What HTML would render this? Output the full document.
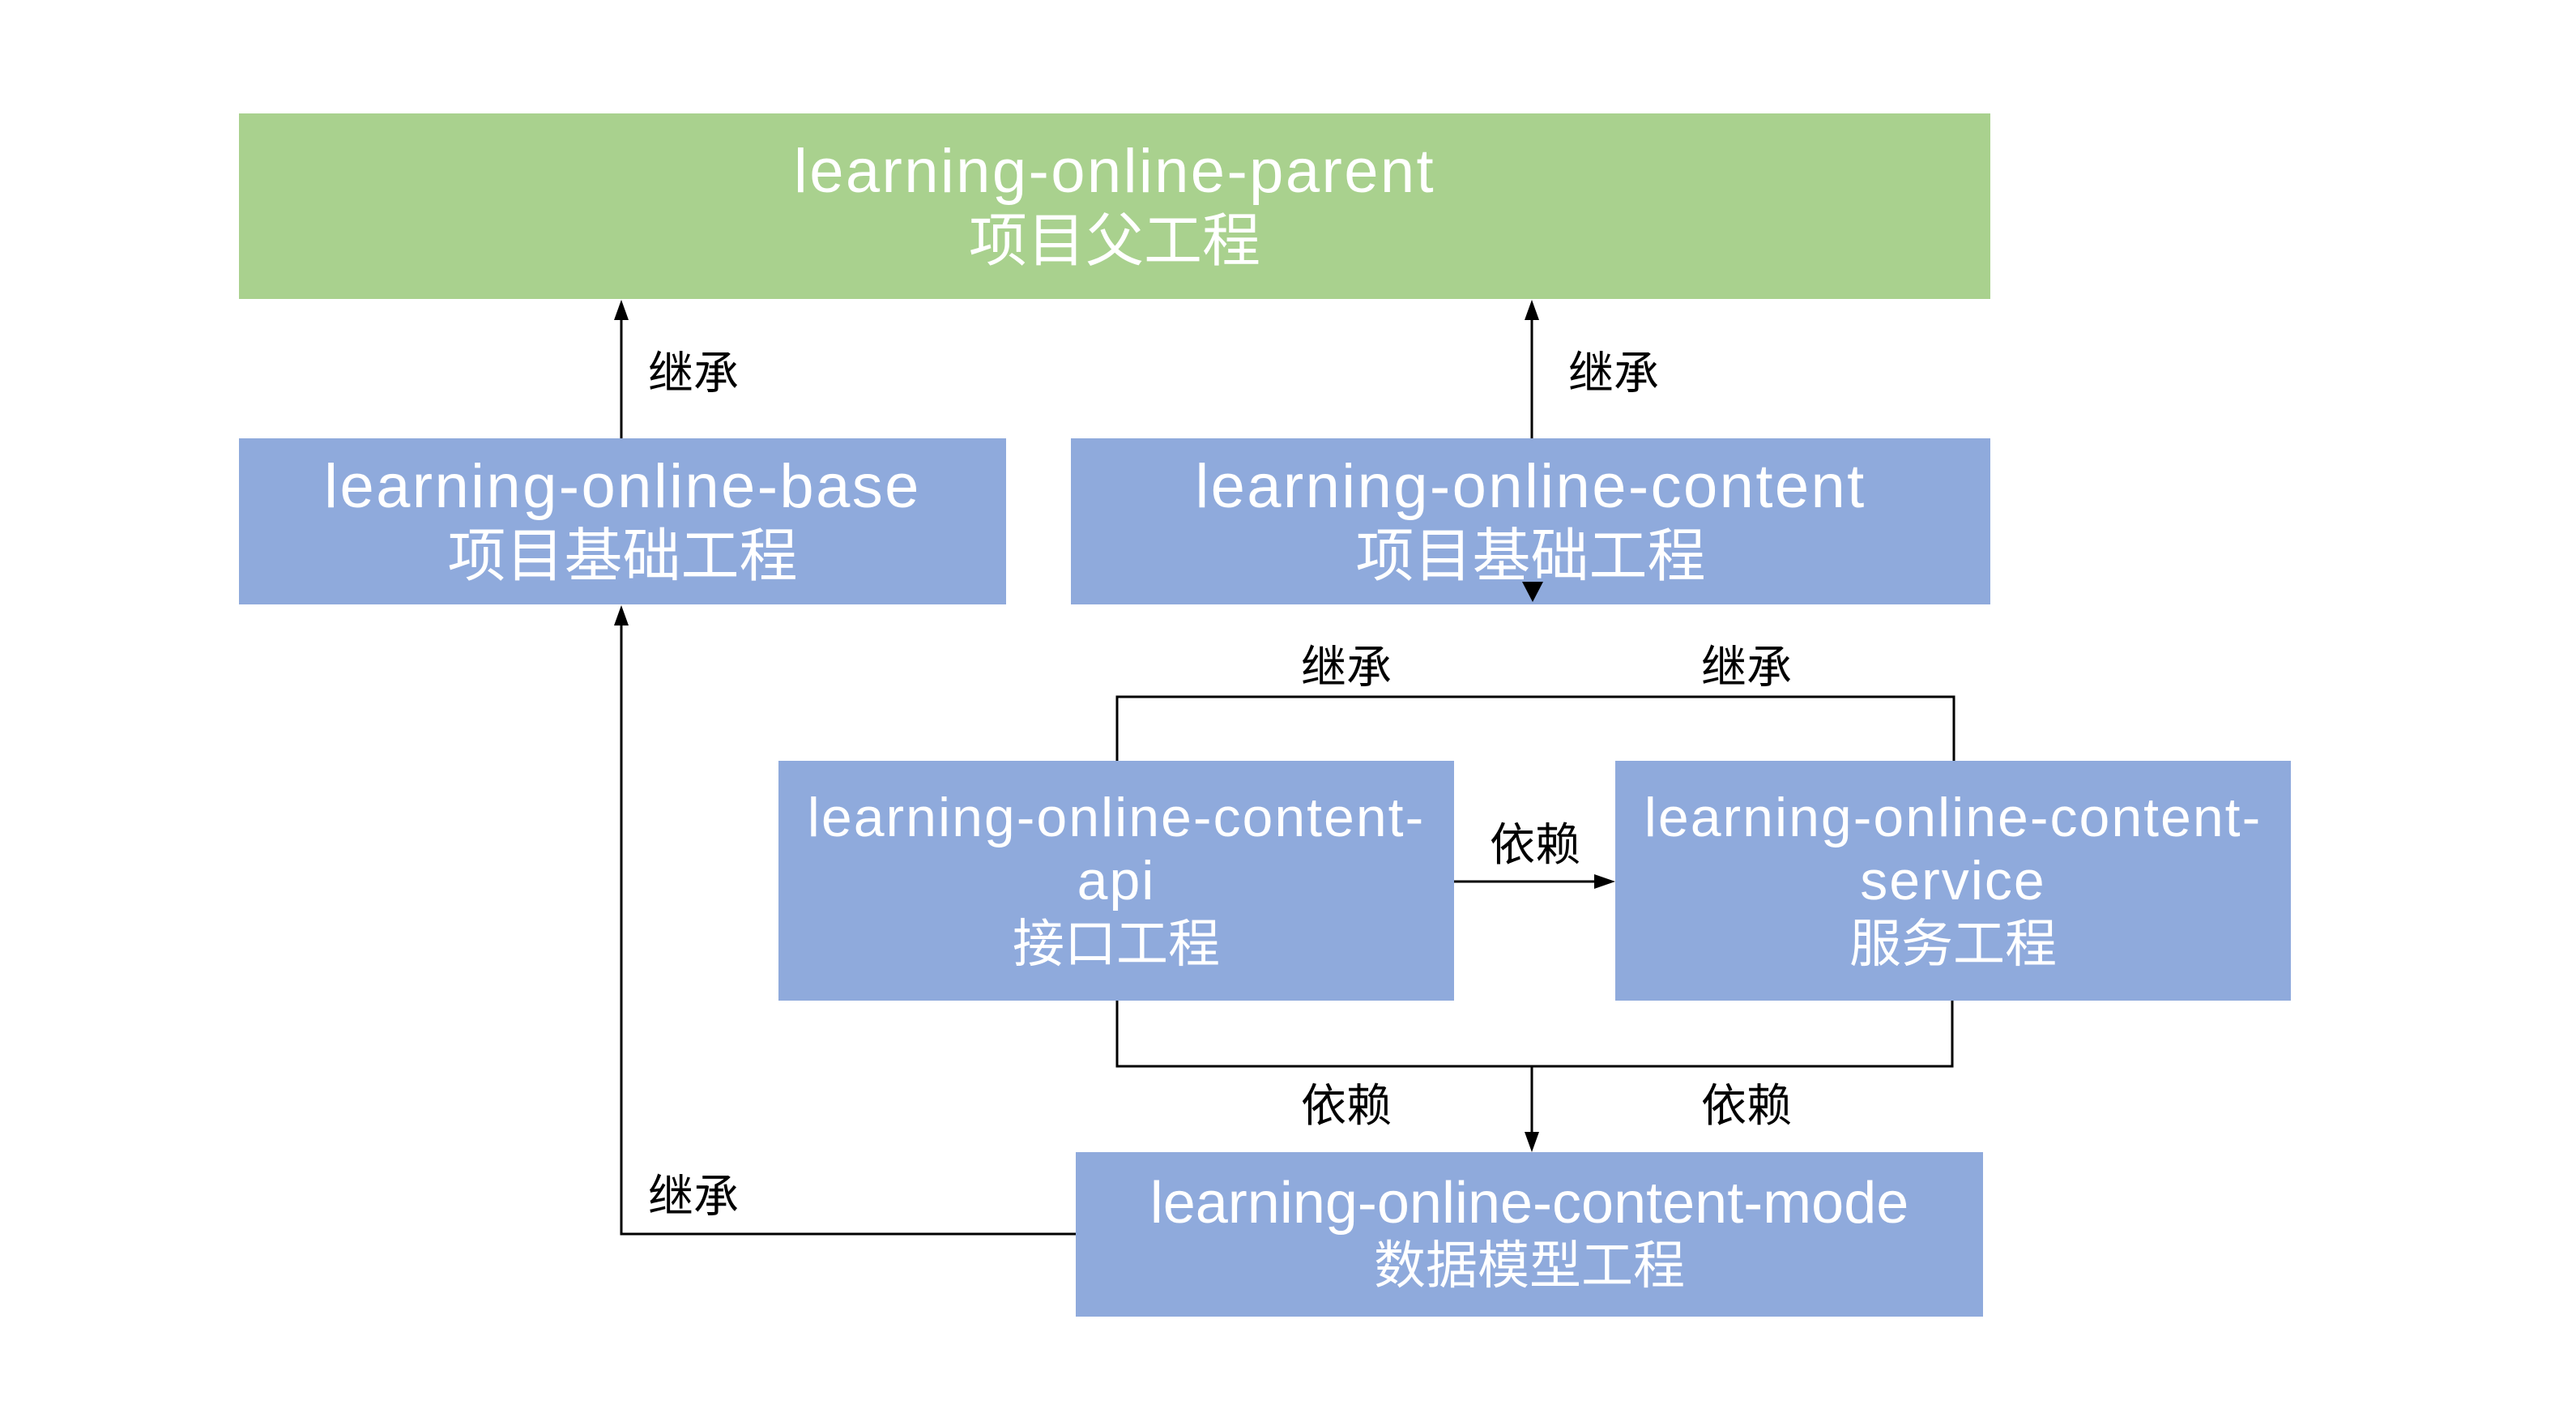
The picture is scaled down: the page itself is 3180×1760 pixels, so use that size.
<!DOCTYPE html>
<html><head><meta charset="utf-8"><style>
html,body{margin:0;padding:0;background:#fff;}
body{width:3180px;height:1760px;position:relative;overflow:hidden;font-family:"Liberation Sans","Noto Sans CJK SC",sans-serif;}
.b{position:absolute;background:#8faadc;color:#fff;display:flex;flex-direction:column;align-items:center;justify-content:center;text-align:center;font-size:72px;line-height:86px;font-family:"Liberation Sans","Noto Sans CJK SC",sans-serif;white-space:nowrap;}
.b .e{font-size:76px;letter-spacing:2.4px;white-space:nowrap;}
.s{font-size:64px;line-height:78px;}
.s .e{font-size:68px;letter-spacing:2px;}
.m{font-size:64px;line-height:77px;}
.m .e{font-size:72px;letter-spacing:0;}
.g{background:#a9d18e;}
.l{position:absolute;font-size:56px;line-height:60px;color:#000;transform:translate(-50%,-50%);white-space:nowrap;font-family:"Noto Sans CJK SC",sans-serif;}
svg{position:absolute;left:0;top:0;}
</style></head><body>
<div class="b g" style="left:295px;top:140px;width:2162px;height:229px;"><div class="e">learning-online-parent</div><div>项目父工程</div></div>
<div class="b" style="left:295px;top:541px;width:947px;height:205px;"><div class="e">learning-online-base</div><div>项目基础工程</div></div>
<div class="b" style="left:1322px;top:541px;width:1135px;height:205px;"><div class="e">learning-online-content</div><div>项目基础工程</div></div>
<div class="b s" style="left:961px;top:939px;width:834px;height:296px;"><div class="e">learning-online-content-</div><div class="e">api</div><div>接口工程</div></div>
<div class="b s" style="left:1994px;top:939px;width:834px;height:296px;"><div class="e">learning-online-content-</div><div class="e">service</div><div>服务工程</div></div>
<div class="b m" style="left:1328px;top:1422px;width:1120px;height:203px;"><div class="e">learning-online-content-mode</div><div>数据模型工程</div></div>
<svg width="3180" height="1760" viewBox="0 0 3180 1760">
<g stroke="#000" stroke-width="3" fill="none">
<line x1="767" y1="541" x2="767" y2="393"/>
<line x1="1891" y1="541" x2="1891" y2="393"/>
<polyline points="1379,939 1379,860 2412,860 2412,939"/>
<line x1="1795" y1="1088" x2="1968" y2="1088"/>
<polyline points="1379,1235 1379,1316 2410,1316 2410,1235"/>
<line x1="1891" y1="1316" x2="1891" y2="1398"/>
<polyline points="1328,1523 767,1523 767,772"/>
</g>
<g fill="#000">
<polygon points="767,370 758,395 776,395"/>
<polygon points="1891,370 1882,395 1900,395"/>
<polygon points="1892,743 1879,718 1905,718"/>
<polygon points="1994,1088 1968,1079 1968,1097"/>
<polygon points="1891,1422 1882,1397 1900,1397"/>
<polygon points="767,747 758,772 776,772"/>
</g>
</svg>
<div class="l" style="left:856px;top:457px;">继承</div>
<div class="l" style="left:1992px;top:457px;">继承</div>
<div class="l" style="left:1662px;top:820px;">继承</div>
<div class="l" style="left:2156px;top:820px;">继承</div>
<div class="l" style="left:1895px;top:1039px;">依赖</div>
<div class="l" style="left:1662px;top:1361px;">依赖</div>
<div class="l" style="left:2156px;top:1361px;">依赖</div>
<div class="l" style="left:856px;top:1473px;">继承</div>
</body></html>
